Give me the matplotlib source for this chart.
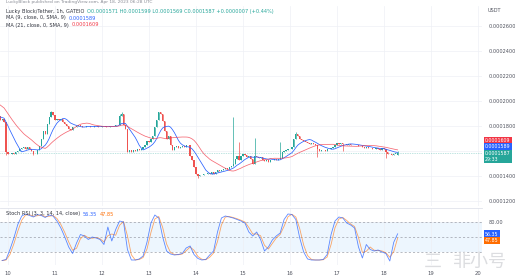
import numpy as np
import pandas as pd
import matplotlib
matplotlib.use("Agg")
import matplotlib.pyplot as plt

# prices are stored in units of 1e-7 USDT (1587 -> 0.0001587)
UNIT = 1e-7

# hourly closes before the visible window (only feed the moving averages)
history_closes = [2100, 2090, 2080, 2070, 2060, 2050, 2040, 2020, 2010, 1990, 1980, 1990,
                  1900, 1880, 1870, 1860, 1880, 1870, 1860, 1880]

# hourly closes, first one is Apr 9 20:00, last one Apr 18 07:00
closes = [1850, 1860, 1830, 1592,
          1580, 1575, 1585, 1578, 1590, 1600, 1615, 1625, 1630, 1620, 1630, 1615,
          1600, 1575, 1580, 1605, 1640, 1700, 1760, 1740, 1820, 1870, 1915, 1890,
          1850, 1860, 1845, 1855, 1830, 1820, 1800, 1780, 1770, 1790,
          1795, 1800, 1805, 1798, 1792, 1795, 1800, 1797, 1790, 1795, 1800, 1802,
          1796, 1793, 1798, 1800, 1795, 1792, 1797, 1802, 1800, 1805,
          1810, 1880, 1900, 1810, 1780, 1590, 1610, 1595, 1605, 1600, 1615, 1610,
          1620, 1630, 1650, 1680, 1670, 1700, 1720, 1790, 1850, 1910, 1900, 1840,
          1760, 1700, 1720, 1650, 1610, 1630, 1640, 1625, 1635, 1640, 1630, 1645,
          1650, 1560, 1530, 1470, 1420, 1400, 1410, 1405, 1420, 1415, 1425, 1420,
          1430, 1420, 1435, 1445, 1440, 1450, 1455, 1465, 1460, 1470, 1480, 1500,
          1540, 1560, 1530, 1560, 1580, 1570, 1550, 1560, 1540, 1500, 1560, 1550,
          1545, 1555, 1530, 1520, 1525, 1515, 1530, 1525, 1535, 1530, 1540, 1545,
          1590, 1600, 1605, 1615, 1620, 1630, 1700, 1740, 1720, 1700, 1690, 1680,
          1670, 1665, 1660, 1665, 1655, 1650, 1620, 1600, 1605, 1610, 1600, 1615,
          1620, 1625, 1635, 1650, 1665, 1660, 1665, 1660, 1655, 1650, 1655, 1650,
          1645, 1650, 1645, 1640, 1638, 1632, 1628, 1630, 1622, 1625, 1617, 1618,
          1622, 1615, 1605, 1625, 1615, 1590, 1575, 1580, 1570, 1578, 1580, 1587]
first_hour = -4  # hours relative to Apr 10 00:00

# opens that differ from the previous close
open_overrides = {199: 1571}

# visible wicks (hour -> price)
wick_highs = {22: 1920, 57: 1895, 58: 1910, 77: 1915, 115: 1870, 118: 1672,
              126: 1704, 139: 1672, 147: 1750, 199: 1599}
wick_lows = {-1: 1570, 13: 1565, 97: 1384, 158: 1552, 171: 1600, 193: 1544, 199: 1569}

# Stoch RSI %K, every second hour from hour -3
stoch_k = [3, 5, 25, 48, 75, 92, 96, 93, 90, 95, 93, 89, 94, 92, 82, 68, 50, 30, 17, 38,
           55, 52, 45, 50, 48, 45, 35, 70, 42, 65, 82, 80, 25, 4, 4, 6, 12, 40, 78, 94,
           88, 50, 22, 16, 14, 15, 17, 28, 32, 15, 7, 4, 5, 14, 22, 60, 88, 92, 90, 88,
           85, 82, 78, 60, 52, 60, 45, 22, 30, 44, 52, 58, 85, 96, 95, 85, 48, 20, 6, 4,
           4, 4, 5, 15, 55, 82, 90, 88, 78, 74, 68, 30, 8, 35, 25, 22, 24, 20, 17, 2,
           39.35, 56.35]
stoch_first_hour = -3

day_labels = ["10", "11", "12", "13", "14", "15", "16", "17", "18", "19", "20"]
price_ticks = [2600, 2400, 2200, 2000, 1800, 1600, 1400, 1200]
hidden_ticks = [1600]  # label covered by the price tags on the scale

UP, DOWN = "#26a69a", "#ef5350"
MA_FAST, MA_SLOW = "#2962ff", "#f23645"
K_COL, D_COL = "#2962ff", "#ff6d00"
GRID = "#eef0f5"
TXT = "#50535e"

all_close = pd.Series(history_closes + closes, dtype=float)
ma9 = all_close.rolling(9).mean().to_numpy()[len(history_closes):]
ma21 = all_close.rolling(21).mean().to_numpy()[len(history_closes):]
hours = np.arange(first_hour, first_hour + len(closes))
opens = [open_overrides.get(h, prev) for h, prev in zip(hours, [history_closes[-1]] + closes[:-1])]

k = pd.Series(stoch_k, dtype=float)
d = k.rolling(2, min_periods=1).mean()
stoch_hours = np.arange(stoch_first_hour, stoch_first_hour + 2 * len(stoch_k), 2)

W, H = 515, 279
fig = plt.figure(figsize=(W / 100, H / 100), dpi=100)
ax = fig.add_axes([0, 1 - 206 / H, 482 / W, 200 / H])
ax2 = fig.add_axes([0, 1 - 265 / H, 482 / W, 57 / H])

x_lo, x_hi = -8 / 1.958, 474 / 1.958
day_hours = [24 * i for i in range(len(day_labels))]

# ---- price panel
for h, o, c in zip(hours, opens, closes):
    col = UP if c >= o else DOWN
    hi = max(o, c, wick_highs.get(h, max(o, c)))
    lo = min(o, c, wick_lows.get(h, min(o, c)))
    ax.vlines(h, lo, hi, color=col, lw=0.5, zorder=3)
    ax.bar(h, max(abs(c - o), 3), bottom=min(o, c), width=0.62, color=col,
           linewidth=0, zorder=3)
ax.plot(hours, ma9, color=MA_FAST, lw=0.55, zorder=4)
ax.plot(hours, ma21, color=MA_SLOW, lw=0.55, alpha=0.75, zorder=4)
ax.axhline(closes[-1], color=UP, lw=0.5, ls=(0, (1, 1.5)), alpha=0.6, zorder=2)

ax.set_xlim(x_lo, x_hi)
ax.set_ylim(1160, 2760)
ax.set_xticks(day_hours)
ax.set_xticklabels([])
ax.set_yticks(price_ticks)
ax.set_yticklabels(["" if v in hidden_ticks else f"{v * UNIT:.7f}" for v in price_ticks])
ax.yaxis.tick_right()
ax.tick_params(length=0, labelsize=3.6, labelcolor=TXT, pad=5)
ax.grid(color=GRID, lw=0.5)
for s in ax.spines.values():
    s.set_visible(False)

# ---- stoch rsi panel
ax2.axhspan(20, 80, color="#2196f3", alpha=0.08, lw=0)
for lvl in (80, 50, 20):
    ax2.axhline(lvl, color="#9a9ea8", lw=0.5, ls=(0, (3, 3)))
ax2.plot(stoch_hours, d, color=D_COL, lw=0.6, alpha=0.6)
ax2.plot(stoch_hours, k, color=K_COL, lw=0.6, alpha=0.75)
ax2.set_xlim(x_lo, x_hi)
ax2.set_ylim(-6, 108)
ax2.set_xticks(day_hours)
ax2.set_xticklabels(day_labels)
ax2.set_yticks([80])
ax2.set_yticklabels(["80.00"])
ax2.yaxis.tick_right()
ax2.tick_params(length=0, labelsize=3.6, labelcolor=TXT, pad=5)
ax2.tick_params(axis="x", pad=4, labelsize=3.8)
ax2.grid(color=GRID, lw=0.5)
for s in ax2.spines.values():
    s.set_visible(False)
ax2.spines["top"].set_visible(True)
ax2.spines["top"].set_color("#e0e3eb")
ax2.spines["top"].set_linewidth(0.6)


def px(x, y):
    return x / W, 1 - y / H


def legend_line(host, x, y, parts, size=3.6):
    # first piece placed in figure pixels, the rest chained after it
    t = host.text(*px(x, y), parts[0][0], color=parts[0][1], fontsize=size, va="center",
                  transform=fig.transFigure)
    for s, c in parts[1:]:
        t = host.annotate(s, xy=(1, 0.5), xycoords=t, xytext=(2, 0),
                          textcoords="offset points", color=c, fontsize=size,
                          va="center", annotation_clip=False)
    return t


fig.text(*px(6, 2), "LuckyBlock published on TradingView.com, Apr 18, 2023 06:28 UTC",
         color="#8a8d96", fontsize=3.2, va="center")
chg = closes[-1] - closes[-2]
legend_line(ax, 6, 11, [("Lucky Block/Tether, 1h, GATEIO", "#30333d"),
                        (f"O{opens[-1] * UNIT:.7f} H{wick_highs[199] * UNIT:.7f} "
                         f"L{wick_lows[199] * UNIT:.7f} C{closes[-1] * UNIT:.7f} "
                         f"+{chg * UNIT:.7f} (+{chg / closes[-2] * 100:.2f}%)", UP)])
legend_line(ax, 6, 18, [("MA (9, close, 0, SMA, 9)", "#30333d"),
                        (f"{ma9[-1] * UNIT:.7f}", MA_FAST)])
legend_line(ax, 6, 25, [("MA (21, close, 0, SMA, 9)", "#30333d"),
                        (f"{ma21[-1] * UNIT:.7f}", MA_SLOW)])
legend_line(ax2, 6, 214, [("Stoch RSI (3, 3, 14, 14, close)", "#30333d"),
                          (f"{k.iloc[-1]:.2f}", K_COL), (f"{d.iloc[-1]:.2f}", D_COL)])

fig.text(*px(488, 10), "USDT", color=TXT, fontsize=3.6, va="center")


def tag(y, s, col, size=3.4):
    fig.text(*px(485, y), s, color="white", fontsize=size, va="center", linespacing=1.2,
             bbox=dict(boxstyle="square,pad=0.22", fc=col, ec="none"), zorder=10)


tag(140.3, f"{ma21[-1] * UNIT:.7f}", MA_SLOW)
tag(147.0, f"{ma9[-1] * UNIT:.7f}", MA_FAST)
tag(156.6, f"{closes[-1] * UNIT:.7f}\n29:33", UP)
tag(234, f"{k.iloc[-1]:.2f}", K_COL)
tag(240.7, f"{d.iloc[-1]:.2f}", D_COL)

# site watermark
fig.text(*px(433, 262), "三", color="#dcdde0", fontsize=13, va="center", ha="center",
         family=["Noto Sans CJK SC", "DejaVu Sans"])
fig.text(*px(480, 262), "非小号", color="#dcdde0", fontsize=13, va="center", ha="center",
         family=["Noto Sans CJK SC", "DejaVu Sans"])

fig.savefig("out.png", dpi=100, facecolor="white")
